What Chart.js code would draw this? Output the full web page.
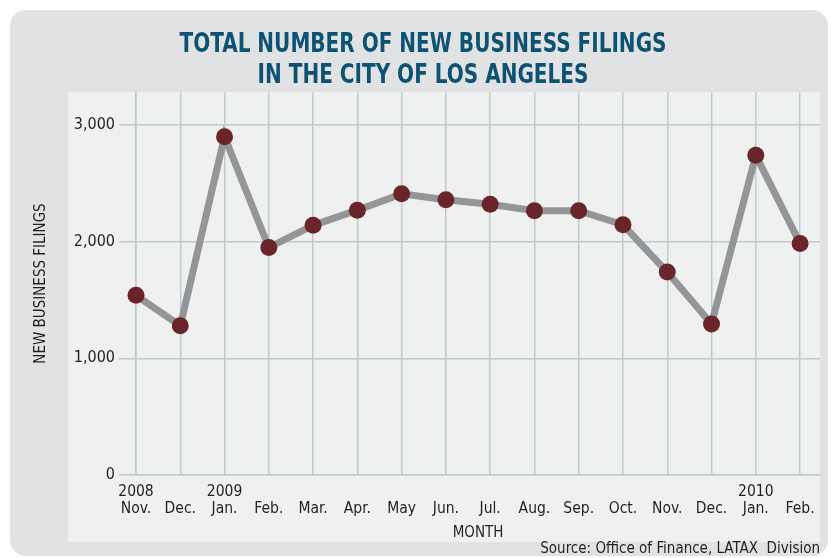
<!DOCTYPE html>
<html>
<head>
<meta charset="utf-8">
<script src="https://cdn.jsdelivr.net/npm/chart.js@4"></script>
<style>
  body { margin: 0; background: #fff; }
  #wrap { width: 831px; height: 558px; }
</style>
</head>
<body>
<div id="wrap"><canvas id="mainChart" width="831" height="558"></canvas></div>
<script>
const months = [
  [`2008`, `Nov.`], [``, `Dec.`], [`2009`, `Jan.`], [``, `Feb.`], [``, `Mar.`],
  [``, `Apr.`], [``, `May`], [``, `Jun.`], [``, `Jul.`], [``, `Aug.`],
  [``, `Sep.`], [``, `Oct.`], [``, `Nov.`], [``, `Dec.`], [`2010`, `Jan.`], [``, `Feb.`],
]
const filings = [1540, 1280, 2900, 1950, 2140, 2270, 2410, 2360, 2320, 2265, 2265, 2145, 1740, 1295, 2740, 1985]
const yTicks = [0, 1000, 2000, 3000]
const titleLines = [`TOTAL NUMBER OF NEW BUSINESS FILINGS`, `IN THE CITY OF LOS ANGELES`]

const narrow = `'Liberation Sans Narrow', 'DejaVu Sans Condensed', sans-serif`
const ink = `#231f20`

// grey panel + lighter inner area behind the chart, and the squeezed headline
const panel = {
  id: "panel",
  beforeDraw(chart) {
    const ctx = chart.ctx
    ctx.save()
    ctx.fillStyle = "#e1e2e3"
    ctx.beginPath()
    ctx.roundRect(10, 10, 818, 546, 16)
    ctx.fill()
    ctx.fillStyle = "#eff0f0"
    ctx.fillRect(68, 92, 752, 450)

    ctx.font = `bold 27px ${narrow}`
    ctx.fillStyle = "#0d5272"
    ctx.textAlign = "center"
    ctx.textBaseline = "alphabetic"
    // headline is a condensed face, so squeeze the fallback to the same width
    const squeeze = 487 / ctx.measureText(titleLines[0]).width
    titleLines.forEach((line, i) => {
      ctx.save()
      ctx.translate(423, 52 + i * 31)
      ctx.scale(squeeze, 1)
      ctx.fillText(line, 0, 0)
      ctx.restore()
    })
    ctx.restore()
  },
}

new Chart(document.getElementById(`mainChart`), {
  type: "line",
  data: {
    datasets: [
      {
        label: `New business filings`,
        data: filings.map((v, i) => ({ x: i, y: v })),
        borderColor: "#939598",
        borderWidth: 7,
        pointRadius: 8.5,
        pointHoverRadius: 8.5,
        pointBackgroundColor: "#6a252a",
        pointBorderWidth: 0,
        tension: 0,
        clip: false,
      },
    ],
  },
  options: {
    responsive: false,
    animation: false,
    layout: { padding: { left: 0, right: 11, top: 92, bottom: 0 } },
    scales: {
      x: {
        type: "linear",
        min: 0,
        max: 15.45,
        afterBuildTicks: (s) => { s.ticks = months.map((m, i) => ({ value: i })) },
        afterFit: (s) => { s.height = 67 },
        grid: { color: "#c3c9cd", lineWidth: 1.5, drawTicks: false },
        border: { color: "#c3c9cd", width: 1.5 },
        ticks: {
          padding: 8,
          maxRotation: 0,
          autoSkip: false,
          color: ink,
          font: { family: narrow, size: 15.5, lineHeight: 1.12 },
          callback: (v) => months[v],
        },
        title: {
          display: true,
          text: `MONTH`,
          color: ink,
          font: { family: narrow, size: 15, lineHeight: 1.2 },
          padding: { top: 6, bottom: 0 },
        },
      },
      y: {
        min: 0,
        max: 3283,
        afterBuildTicks: (s) => { s.ticks = yTicks.map((v) => ({ value: v })) },
        afterFit: (s) => { s.width = 136 },
        grid: { color: "#c3c9cd", lineWidth: 1.5, tickLength: 17 },
        border: { color: "#c3c9cd", width: 1.5 },
        ticks: {
          padding: 4,
          color: ink,
          font: { family: narrow, size: 16 },
          callback: (v) => v.toLocaleString("en-US"),
        },
        title: {
          display: true,
          text: `NEW BUSINESS FILINGS`,
          color: ink,
          font: { family: narrow, size: 15, lineHeight: 1.2 },
          padding: { top: 32, bottom: 29 },
        },
      },
    },
    plugins: {
      legend: { display: false },
      tooltip: { enabled: false },
      subtitle: {
        display: true,
        position: "bottom",
        align: "end",
        text: `Source: Office of Finance, LATAX  Division`,
        color: ink,
        font: { family: narrow, size: 15, lineHeight: 1 },
        padding: { top: 0, bottom: 1 },
      },
    },
  },
  plugins: [panel],
})
</script>
</body>
</html>
